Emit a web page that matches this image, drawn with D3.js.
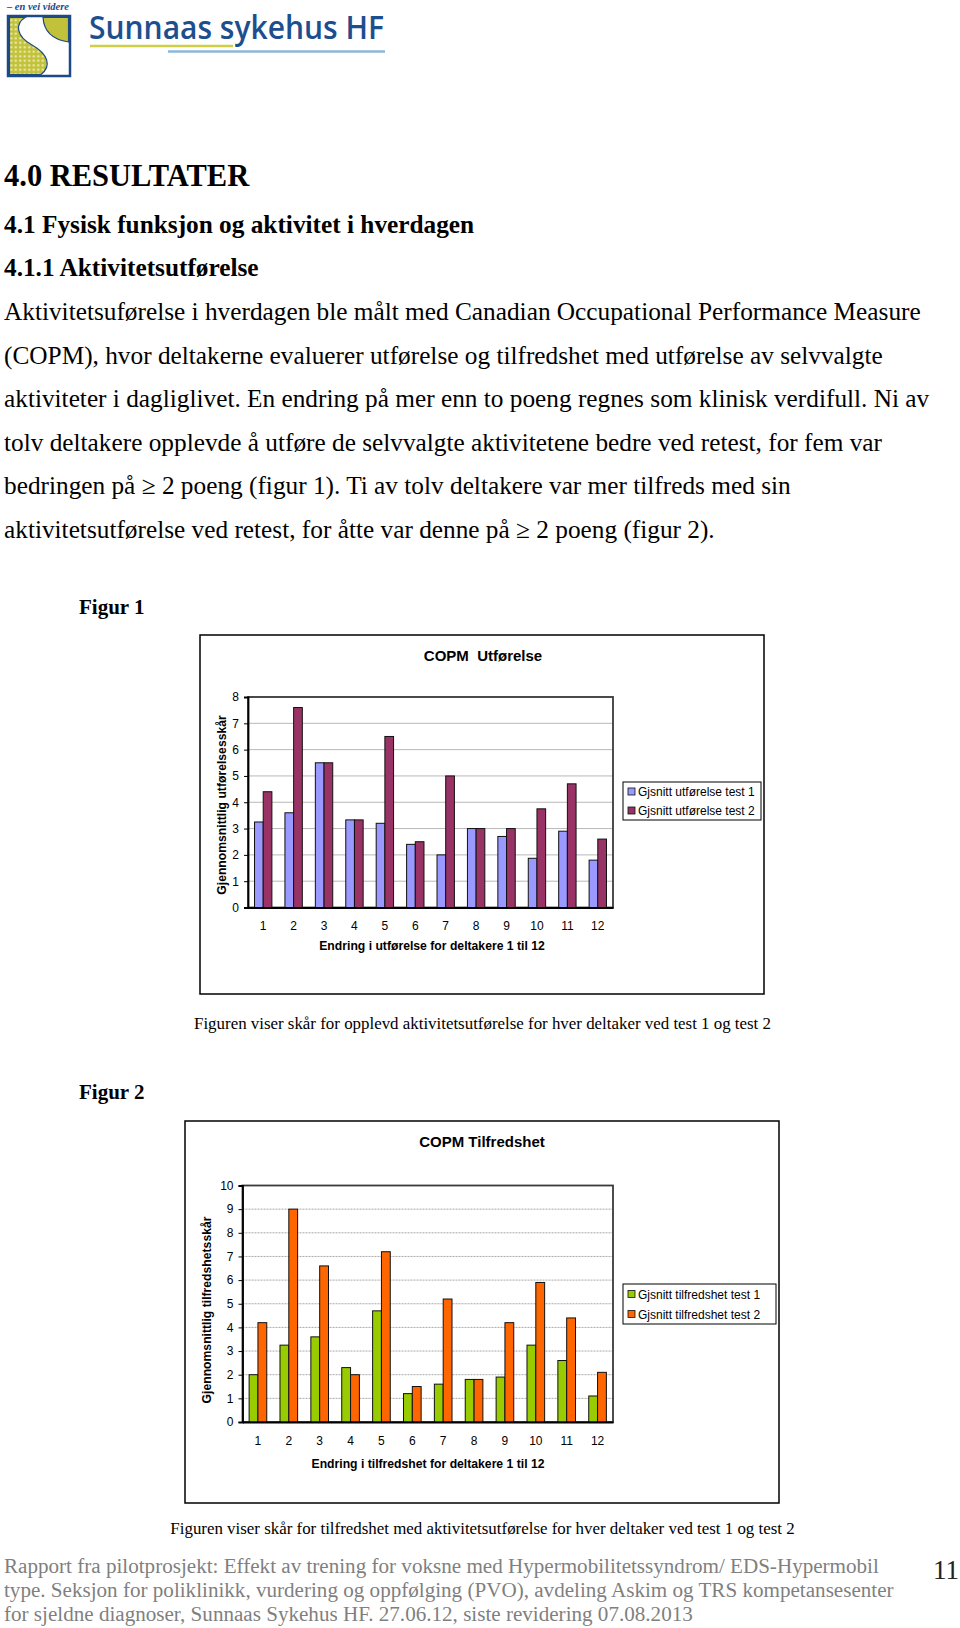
<!DOCTYPE html>
<meta charset="utf-8">
<script src="https://cdn.jsdelivr.net/npm/d3@7"></script>
<style>
body { margin: 0; background: #fff; }
svg { display: block; }
.serif { font-family: "Liberation Serif", "Times New Roman", serif; fill: #000; }
.chart text { font-family: "Liberation Sans", Arial, sans-serif; fill: #000; }
.axis path, .axis line { stroke: #000; }
</style>
<body>
<script>
var width = 960,
    height = 1628;

// participants 1..12
var deltakere = ["1", "2", "3", "4", "5", "6", "7", "8", "9", "10", "11", "12"];

// figur 1 - COPM utforelse
var utforelseTest1 = [3.25, 3.6, 5.5, 3.33, 3.2, 2.4, 2.0, 3.0, 2.7, 1.87, 2.9, 1.8];
var utforelseTest2 = [4.4, 7.6, 5.5, 3.33, 6.5, 2.5, 5.0, 3.0, 3.0, 3.75, 4.7, 2.6];
var utforelseTicks = [0, 1, 2, 3, 4, 5, 6, 7, 8];

// figur 2 - COPM tilfredshet
var tilfredshetTest1 = [2.0, 3.25, 3.6, 2.3, 4.7, 1.2, 1.6, 1.8, 1.9, 3.25, 2.6, 1.1];
var tilfredshetTest2 = [4.2, 9.0, 6.6, 2.0, 7.2, 1.5, 5.2, 1.8, 4.2, 5.9, 4.4, 2.1];
var tilfredshetTicks = [0, 1, 2, 3, 4, 5, 6, 7, 8, 9, 10];

var bodyLines = [
  "Aktivitetsuførelse i hverdagen ble målt med Canadian Occupational Performance Measure",
  "(COPM), hvor deltakerne evaluerer utførelse og tilfredshet med utførelse av selvvalgte",
  "aktiviteter i dagliglivet. En endring på mer enn to poeng regnes som klinisk verdifull. Ni av",
  "tolv deltakere opplevde å utføre de selvvalgte aktivitetene bedre ved retest, for fem var",
  "bedringen på ≥ 2 poeng (figur 1). Ti av tolv deltakere var mer tilfreds med sin",
  "aktivitetsutførelse ved retest, for åtte var denne på ≥ 2 poeng (figur 2)."
];

var footerLines = [
  "Rapport fra pilotprosjekt: Effekt av trening for voksne med Hypermobilitetssyndrom/ EDS-Hypermobil",
  "type. Seksjon for poliklinikk, vurdering og oppfølging (PVO), avdeling Askim og TRS kompetansesenter",
  "for sjeldne diagnoser, Sunnaas Sykehus HF. 27.06.12, siste revidering 07.08.2013"
];

var svg = d3.select("body").append("svg")
    .attr("width", width)
    .attr("height", height);

// ---------- logo ----------
var logo = svg.append("g");
var defs = svg.append("defs");
var pat = defs.append("pattern")
    .attr("id", "dots")
    .attr("width", 4.5).attr("height", 4.5)
    .attr("patternUnits", "userSpaceOnUse");
pat.append("rect").attr("width", 4.5).attr("height", 4.5).attr("fill", "#c2c23a");
pat.append("circle").attr("cx", 2.25).attr("cy", 2.25).attr("r", 1.2).attr("fill", "#ecebb6");

logo.append("rect")
    .attr("x", 8).attr("y", 16).attr("width", 62).attr("height", 60)
    .attr("fill", "#fff").attr("stroke", "#1d4a86").attr("stroke-width", 2.5);
logo.append("path")
    .attr("d", "M9.5,17.5 L25,17.5 C15,24 16,36 32,45 C48,54 52,66 41,74.5 L9.5,74.5 Z")
    .attr("fill", "url(#dots)").attr("stroke", "#1d4a86").attr("stroke-width", 1.2);
logo.append("path")
    .attr("d", "M43,17.5 L68.5,17.5 L68.5,42 C55,40 44,33 43,17.5 Z")
    .attr("fill", "#c2c23a").attr("stroke", "#1d4a86").attr("stroke-width", 1.2);
logo.append("text")
    .attr("x", 7).attr("y", 10)
    .attr("font-family", "Liberation Serif, serif")
    .attr("font-style", "italic").attr("font-weight", "bold")
    .attr("font-size", 9.5).attr("fill", "#1d4a86")
    .attr("textLength", 62).attr("lengthAdjust", "spacingAndGlyphs")
    .text("– en vei videre");
logo.append("text")
    .attr("x", 89).attr("y", 39)
    .attr("font-family", "Open Sans, sans-serif")
    .attr("font-size", 33).attr("font-weight", 600).attr("fill", "#1d4f8e")
    .attr("textLength", 295).attr("lengthAdjust", "spacingAndGlyphs")
    .text("Sunnaas sykehus HF");
logo.append("line")
    .attr("x1", 90).attr("x2", 233).attr("y1", 46).attr("y2", 46)
    .attr("stroke", "#cfcf46").attr("stroke-width", 2.5);
logo.append("line")
    .attr("x1", 168).attr("x2", 385).attr("y1", 51.5).attr("y2", 51.5)
    .attr("stroke", "#8db7da").attr("stroke-width", 2.5);

// ---------- text ----------
svg.append("text").attr("class", "serif")
    .attr("x", 4).attr("y", 186)
    .attr("font-size", 30.5).attr("font-weight", "bold")
    .text("4.0 RESULTATER");
svg.append("text").attr("class", "serif")
    .attr("x", 4).attr("y", 233)
    .attr("font-size", 25.3).attr("font-weight", "bold")
    .text("4.1 Fysisk funksjon og aktivitet i hverdagen");
svg.append("text").attr("class", "serif")
    .attr("x", 4).attr("y", 276)
    .attr("font-size", 25.3).attr("font-weight", "bold")
    .text("4.1.1 Aktivitetsutførelse");

svg.selectAll("text.body")
  .data(bodyLines)
  .enter().append("text")
    .attr("class", "serif body")
    .attr("x", 4)
    .attr("y", function(d, i) { return 320 + i * 43.6; })
    .attr("font-size", 25.3)
    .text(function(d) { return d; });

svg.append("text").attr("class", "serif")
    .attr("x", 79).attr("y", 614)
    .attr("font-size", 21).attr("font-weight", "bold")
    .text("Figur 1");
svg.append("text").attr("class", "serif")
    .attr("x", 79).attr("y", 1099)
    .attr("font-size", 21).attr("font-weight", "bold")
    .text("Figur 2");

svg.append("text").attr("class", "serif")
    .attr("x", 482.5).attr("y", 1029).attr("text-anchor", "middle")
    .attr("font-size", 16.9)
    .text("Figuren viser skår for opplevd aktivitetsutførelse for hver deltaker ved test 1 og test 2");
svg.append("text").attr("class", "serif")
    .attr("x", 482.5).attr("y", 1534).attr("text-anchor", "middle")
    .attr("font-size", 16.9)
    .text("Figuren viser skår for tilfredshet med aktivitetsutførelse for hver deltaker ved test 1 og test 2");

svg.selectAll("text.footer")
  .data(footerLines)
  .enter().append("text")
    .attr("class", "footer")
    .attr("x", 4)
    .attr("y", function(d, i) { return 1573 + i * 23.9; })
    .attr("font-family", "Liberation Serif, serif")
    .attr("font-size", 21.1)
    .attr("fill", "#7f7f7f")
    .text(function(d) { return d; });
svg.append("text")
    .attr("x", 959).attr("y", 1579).attr("text-anchor", "end")
    .attr("font-family", "Liberation Serif, serif")
    .attr("font-size", 27)
    .attr("fill", "#222")
    .text("11");

// ---------- charts ----------
function drawChart(cfg) {
  var g = svg.append("g").attr("class", "chart");

  g.append("rect")
      .attr("x", cfg.box[0]).attr("y", cfg.box[1])
      .attr("width", cfg.box[2] - cfg.box[0]).attr("height", cfg.box[3] - cfg.box[1])
      .attr("fill", "#fff").attr("stroke", "#000").attr("stroke-width", 1.5);

  var x0 = d3.scaleBand()
      .domain(deltakere)
      .range([cfg.plot[0], cfg.plot[1]])
      .paddingInner(0.4286)
      .paddingOuter(0.2143);
  var x1 = d3.scaleBand()
      .domain([0, 1])
      .range([0, x0.bandwidth()]);
  var y = d3.scaleLinear()
      .domain([0, d3.max(cfg.ticks)])
      .range([cfg.plot[3], cfg.plot[2]]);

  // gridlines
  g.append("g")
    .selectAll("line")
    .data(cfg.ticks.slice(1))
    .enter().append("line")
      .attr("x1", cfg.plot[0]).attr("x2", cfg.plot[1])
      .attr("y1", function(d) { return y(d); })
      .attr("y2", function(d) { return y(d); })
      .attr("stroke", cfg.gridColor)
      .attr("stroke-width", 1)
      .attr("stroke-dasharray", cfg.gridDash);

  // plot frame
  g.append("rect")
      .attr("x", cfg.plot[0]).attr("y", cfg.plot[2])
      .attr("width", cfg.plot[1] - cfg.plot[0]).attr("height", cfg.plot[3] - cfg.plot[2])
      .attr("fill", "none").attr("stroke", "#3a3a3a").attr("stroke-width", 1.8);

  var series = [cfg.test1, cfg.test2];
  series.forEach(function(vals, s) {
    g.append("g")
      .selectAll("rect")
      .data(vals)
      .enter().append("rect")
        .attr("x", function(d, i) { return x0(deltakere[i]) + x1(s); })
        .attr("y", function(d) { return y(d); })
        .attr("width", x1.bandwidth())
        .attr("height", function(d) { return y(0) - y(d); })
        .attr("fill", cfg.colors[s])
        .attr("stroke", "#111")
        .attr("stroke-width", 1);
  });

  var yAxis = g.append("g")
      .attr("class", "axis")
      .attr("transform", "translate(" + cfg.plot[0] + ",0)")
      .call(d3.axisLeft(y).tickValues(cfg.ticks).tickSize(4).tickPadding(5).tickFormat(d3.format("d")));
  yAxis.selectAll("text").attr("font-size", 12);
  yAxis.select(".domain").attr("stroke-width", 1.8);

  var xAxis = g.append("g")
      .attr("class", "axis")
      .attr("transform", "translate(0," + cfg.plot[3] + ")")
      .call(d3.axisBottom(x0).tickSize(0).tickPadding(14));
  xAxis.selectAll("text").attr("font-size", 12);
  xAxis.select(".domain").attr("stroke-width", 2);

  g.append("text")
      .attr("x", cfg.titlePos[0]).attr("y", cfg.titlePos[1])
      .attr("text-anchor", "middle")
      .attr("font-size", 15).attr("font-weight", "bold")
      .attr("xml:space", "preserve")
      .text(cfg.title);
  g.append("text")
      .attr("x", cfg.xTitlePos[0]).attr("y", cfg.xTitlePos[1])
      .attr("text-anchor", "middle")
      .attr("font-size", 12.2).attr("font-weight", "bold")
      .text(cfg.xTitle);
  g.append("text")
      .attr("transform", "translate(" + cfg.yTitlePos[0] + "," + cfg.yTitlePos[1] + ")rotate(-90)")
      .attr("text-anchor", "middle")
      .attr("font-size", 12.2).attr("font-weight", "bold")
      .text(cfg.yTitle);

  // legend
  var lg = cfg.legend;
  g.append("rect")
      .attr("x", lg[0]).attr("y", lg[1])
      .attr("width", lg[2] - lg[0]).attr("height", lg[3] - lg[1])
      .attr("fill", "#fff").attr("stroke", "#000").attr("stroke-width", 1);
  var item = g.selectAll("g.legenditem")
    .data(cfg.legendLabels)
    .enter().append("g")
      .attr("transform", function(d, i) {
        return "translate(" + (lg[0] + 5) + "," + (lg[1] + (lg[3] - lg[1]) * (i + 0.5) / 2) + ")";
      });
  item.append("rect")
      .attr("x", 0).attr("y", -3.5).attr("width", 7).attr("height", 7)
      .attr("fill", function(d, i) { return cfg.colors[i]; })
      .attr("stroke", "#111").attr("stroke-width", 0.8);
  item.append("text")
      .attr("x", 10).attr("y", 4.5)
      .attr("font-size", 12)
      .text(function(d) { return d; });
}

drawChart({
  box: [200, 635, 764, 994],
  plot: [248, 613, 697, 907.5],
  ticks: utforelseTicks,
  test1: utforelseTest1,
  test2: utforelseTest2,
  colors: ["#9999ff", "#993366"],
  gridColor: "#b8b8b8",
  gridDash: null,
  title: "COPM  Utførelse",
  titlePos: [483, 661],
  xTitle: "Endring i utførelse for deltakere 1 til 12",
  xTitlePos: [432, 950],
  yTitle: "Gjennomsnittlig utførelsesskår",
  yTitlePos: [226, 805],
  legend: [623, 782, 761, 820],
  legendLabels: ["Gjsnitt utførelse test 1", "Gjsnitt utførelse test 2"]
});

drawChart({
  box: [185, 1121, 779, 1503],
  plot: [242.5, 613, 1185.5, 1422],
  ticks: tilfredshetTicks,
  test1: tilfredshetTest1,
  test2: tilfredshetTest2,
  colors: ["#99cc00", "#ff6600"],
  gridColor: "#a8a8a8",
  gridDash: "2,1",
  title: "COPM Tilfredshet",
  titlePos: [482, 1147],
  xTitlePos: [428, 1468],
  xTitle: "Endring i tilfredshet for deltakere 1 til 12",
  yTitle: "Gjennomsnittlig tilfredshetsskår",
  yTitlePos: [211, 1310],
  legend: [623, 1284, 776, 1324],
  legendLabels: ["Gjsnitt tilfredshet test 1", "Gjsnitt tilfredshet test 2"]
});
</script>
</body>
</html>
